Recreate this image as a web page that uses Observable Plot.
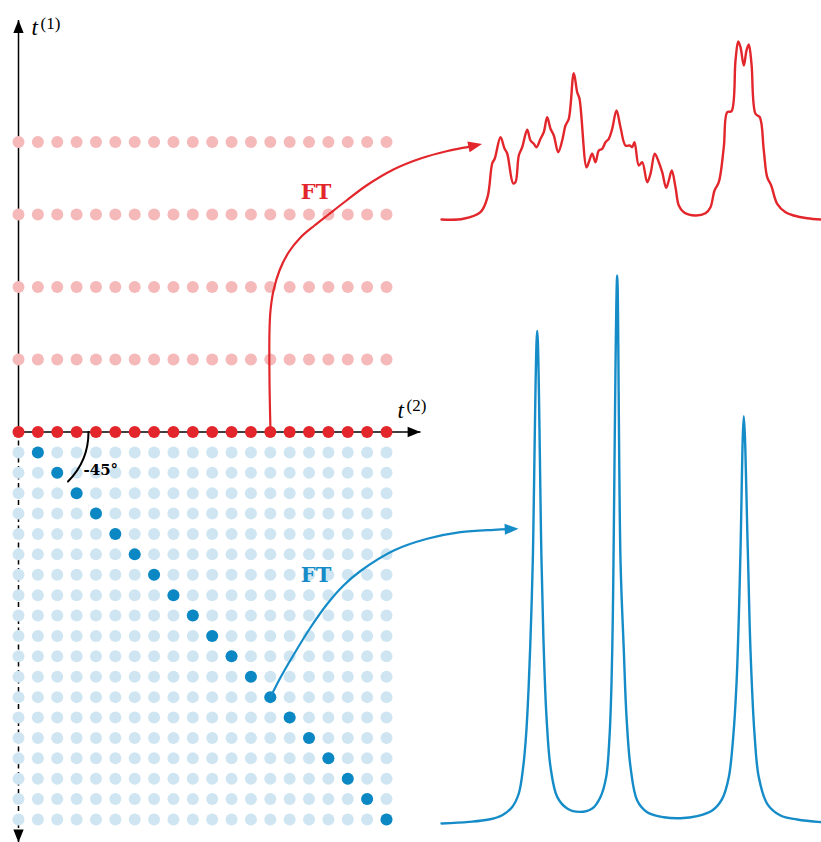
<!DOCTYPE html>
<html><head><meta charset="utf-8">
<script src="https://cdn.jsdelivr.net/npm/d3@7"></script>
<script src="https://cdn.jsdelivr.net/npm/@observablehq/plot@0.6"></script>
<style>
html,body{margin:0;padding:0;background:#fff;}
#chart{position:relative;width:821px;height:842px;overflow:hidden;background:#fff;}
#chart svg{position:absolute;left:0;top:0;}
</style></head><body><div id="chart"></div>
<script>
// ---------------- data ----------------
const t2Samples = [0,1,2,3,4,5,6,7,8,9,10,11,12,13,14,15,16,17,18,19];
const t1Samples = [0,1,2,3,4];                 // t1 = 0 is the acquired (dark) row
const rotatedRows = [1,2,3,4,5,6,7,8,9,10,11,12,13,14,15,16,17,18,19];
const diagonalSamples = [1,2,3,4,5,6,7,8,9,10,11,12,13,14,15,16,17,18,19];

const redFreq = [0,22,39,46,50.7,53.3,59,63,65.7,71.7,74,77.3,80.7,85.7,89,92.3,95,99,102.3,105.7,109,112.3,116.7,120.7,124,127.3,132.3,135.7,138,145,147.3,150.7,154,157.3,160.7,164,167.3,170.7,175,179,184,188.3,190.7,193,197.3,200.7,205.7,209,213.3,217.3,220.7,224.7,227.3,230.3,234,237.3,242.3,254,264,269,273,277.3,282.3,285.7,290,294,296.7,299,302.3,305,307.3,310,314,318.3,322.3,325.7,329.7,335.7,344,352.3,365.7,380];
const redIntensity = [0,0.7,7.3,22.3,56,61,82.3,71,66,36,37.3,64,72.3,89.7,79,75.7,72.3,80.7,87.3,102.3,90.7,84,67.3,79,94,100.7,146.3,127.3,120.7,52.3,57.3,65.7,57.3,69,70.7,77.3,80.7,90.7,109,92.3,74,74,72.3,77.3,54,57.3,37.3,45.7,65.7,57.3,47.3,31.7,39,49,32.3,14,7.3,4,6.3,12.3,29,37.3,72.3,107.3,108.3,159,178,172.3,154,169,175,155.7,105.7,102.3,69,42.3,34,15.7,7.3,4,1.3,0];

const blueFreq = [0,27.3,47.3,60.7,70.7,77.3,81.7,84.7,87.3,89.7,91.3,95.7,100,102.3,105,109,115.7,125.7,138,150.7,159,164.7,168,170,171.3,172,175.7,179,182.3,185,189,195.7,205.7,222.3,239,255.7,270.7,280.7,287.3,291.7,295,297.3,299,302.3,306.3,309,313,317.3,325.7,339,355.7,380];
const blueIntensity = [0,1.6,4,8.3,16.6,30,56.6,90,140,206.6,263.3,492.6,263.3,173.3,106.6,56.6,26.6,15,11.6,15,26.6,46.6,86.6,140,206.6,263.3,548,263.3,173.3,107,56.6,23,11.3,6.3,5.3,7.3,13,24.7,46.3,86.3,139.7,206.3,273,407.3,273,173,89.7,46.3,19.7,8,4,1.3];

const labelFT = "FT";
const labelAngle = "-45°";

// ---------------- style / layout (pixels) ----------------
const W = 821, H = 842;
const C = {
  red: "#e2262b", redPale: "#f5b9ba",
  blue: "#158cc8", blueDark: "#0b87c4", bluePale: "#cfe6f2",
  ink: "#000"
};
const SERIF = "'DejaVu Serif', serif";
const MATH = "'Liberation Serif', 'DejaVu Serif', serif";

const gridXRange = [18, 386], gridYRange = [431.5, 819];
const sx = d3.scaleLinear([0, 19], gridXRange);
const sy = d3.scaleLinear([0, 19], gridYRange);
const T1_STEP = 72.5 / ((gridYRange[1] - gridYRange[0]) / 19);   // spacing of t1 rows, in row units
const P = (px, py) => ({x: sx.invert(px), y: sy.invert(py)});

// annotation paths of the two FT arrows (pixel anchors)
const redArrowPathPx = [[270,431.5],[269,380],[269,330],[270,310],[273,290],[279,270],[288,252],[300,237],[314,225],[328,214],[346,200],[366,185],[393,169],[420,158],[447,150.5],[468,146.3],[481.5,143.5]];
const blueArrowPathPx = [[270,696.6],[280,677],[293.3,654],[310,627],[326.7,603.5],[343,585],[360,570.5],[393.3,550],[426.7,538.3],[460,531.7],[493.3,529.3],[518,528.3]];

// arrow-head symbol: tip at the origin, pointing up
const arrowHead = {
  draw(ctx, size) {
    const r = Math.sqrt(size / Math.PI), L = 3 * r, w = 2.4 * r;
    ctx.moveTo(0, 0); ctx.lineTo(w / 2, L); ctx.lineTo(-w / 2, L); ctx.closePath();
  }
};
const tipRotate = pts => {
  const [a, b] = pts.slice(-2);
  return Math.atan2(b[1] - a[1], b[0] - a[0]) * 180 / Math.PI + 90;
};

// ---------------- grid tables ----------------
const topDots = t1Samples.flatMap(t1 => t2Samples.map(t2 => ({t1, t2})));
const rotDots = rotatedRows.flatMap(row => t2Samples.map(t2 => ({row, t2})));
const diagDots = diagonalSamples.map(k => ({row: k, t2: k}));

const origin = {x: 0, y: 0};
const topTip = P(18, 19.5), bottomTip = P(18, 842), rightTip = P(420, 431.5);

const redPath = redArrowPathPx.map(([a, b]) => P(a, b));
const bluePath = blueArrowPathPx.map(([a, b]) => P(a, b));
const trim = (pts, px) => {
  const out = pts.slice(0, -1);
  const [a, b] = pts.slice(-2).map(p => [sx(p.x), sy(p.y)]);
  const d = Math.hypot(b[0] - a[0], b[1] - a[1]);
  out.push(P(b[0] - (b[0] - a[0]) * px / d, b[1] - (b[1] - a[1]) * px / d));
  return out;
};

const angR = 70, ang = 45 * Math.PI / 180;
const arcStart = P(18 + angR, 431.5);
const arcEnd = P(18 + angR * Math.cos(ang), 431.5 + angR * Math.sin(ang));

const seg = (a, b) => [{x1: a.x, y1: a.y, x2: b.x, y2: b.y}];
const L4 = {x1: "x1", y1: "y1", x2: "x2", y2: "y2"};

const gridPlot = Plot.plot({
  width: W, height: H,
  marginTop: 0, marginRight: 0, marginBottom: 0, marginLeft: 0,
  style: {background: "transparent", overflow: "visible"},
  x: {domain: [0, 19], range: gridXRange, axis: null},
  y: {domain: [0, 19], range: gridYRange, axis: null},
  marks: [
    // axes
    Plot.link(seg(origin, topTip), {...L4, stroke: C.ink, strokeWidth: 1.5}),
    Plot.link(seg(origin, bottomTip), {...L4, stroke: C.ink, strokeWidth: 1.5, strokeDasharray: "5,3.5"}),
    Plot.link(seg(origin, rightTip), {...L4, stroke: C.ink, strokeWidth: 1.5}),
    // sampled points
    Plot.dot(topDots, {x: "t2", y: d => -d.t1 * T1_STEP, r: 6, fill: d => d.t1 === 0 ? C.red : C.redPale, stroke: null}),
    Plot.dot(rotDots, {x: "t2", y: "row", r: 6, fill: C.bluePale, stroke: null}),
    Plot.dot(diagDots, {x: "t2", y: "row", r: 6, fill: C.blueDark, stroke: null}),
    // -45° arc
    Plot.arrow(seg(arcStart, arcEnd), {...L4, bend: 22.5, headLength: 0, stroke: C.ink, strokeWidth: 2}),
    Plot.text([P(83, 470)], {x: "x", y: "y", text: () => labelAngle, fontFamily: SERIF, fontWeight: "bold", fontSize: 15, textAnchor: "start", fill: C.ink}),
    // FT arrows
    Plot.line(trim(redPath, 6), {x: "x", y: "y", curve: "catmull-rom", stroke: C.red, strokeWidth: 2.2}),
    Plot.dot(redPath.slice(-1), {x: "x", y: "y", symbol: arrowHead, r: 4.6, fill: C.red, stroke: null, rotate: tipRotate(redArrowPathPx)}),
    Plot.line(trim(bluePath, 6), {x: "x", y: "y", curve: "catmull-rom", stroke: C.blue, strokeWidth: 2.2}),
    Plot.dot(bluePath.slice(-1), {x: "x", y: "y", symbol: arrowHead, r: 4.6, fill: C.blue, stroke: null, rotate: tipRotate(blueArrowPathPx)}),
    Plot.text([P(315.5, 192)], {x: "x", y: "y", text: () => labelFT, fontFamily: SERIF, fontWeight: "bold", fontSize: 21, fill: C.red}),
    Plot.text([P(315.5, 575)], {x: "x", y: "y", text: () => labelFT, fontFamily: SERIF, fontWeight: "bold", fontSize: 21, fill: C.blue}),
    // axis labels
    Plot.text([P(31, 27.5)], {x: "x", y: "y", text: () => "t", fontFamily: MATH, fontStyle: "italic", fontSize: 23, textAnchor: "start", fill: C.ink}),
    Plot.text([P(40, 23.5)], {x: "x", y: "y", text: () => "(1)", fontFamily: MATH, fontSize: 17, textAnchor: "start", fill: C.ink}),
    Plot.text([P(397, 410.5)], {x: "x", y: "y", text: () => "t", fontFamily: MATH, fontStyle: "italic", fontSize: 23, textAnchor: "start", fill: C.ink}),
    Plot.text([P(406, 405)], {x: "x", y: "y", text: () => "(2)", fontFamily: MATH, fontSize: 17, textAnchor: "start", fill: C.ink}),
    // axis arrow heads
    Plot.dot([topTip], {x: "x", y: "y", symbol: arrowHead, r: 4.3, fill: C.ink, stroke: null, rotate: 0}),
    Plot.dot([bottomTip], {x: "x", y: "y", symbol: arrowHead, r: 4.3, fill: C.ink, stroke: null, rotate: 180}),
    Plot.dot([rightTip], {x: "x", y: "y", symbol: arrowHead, r: 4.3, fill: C.ink, stroke: null, rotate: 90})
  ]
});

const redSpec = redFreq.map((f, i) => ({f, v: redIntensity[i]}));
const blueSpec = blueFreq.map((f, i) => ({f, v: blueIntensity[i]}));

const redPlot = Plot.plot({
  width: W, height: H,
  marginTop: 0, marginRight: 0, marginBottom: 0, marginLeft: 0,
  style: {background: "transparent", overflow: "visible"},
  x: {domain: [0, 380], range: [441, 821], axis: null},
  y: {domain: [0, 178], range: [219, 41], axis: null},
  marks: [Plot.line(redSpec, {x: "f", y: "v", stroke: C.red, strokeWidth: 2.4, curve: "catmull-rom"})]
});
const bluePlot = Plot.plot({
  width: W, height: H,
  marginTop: 0, marginRight: 0, marginBottom: 0, marginLeft: 0,
  style: {background: "transparent", overflow: "visible"},
  x: {domain: [0, 380], range: [441, 821], axis: null},
  y: {domain: [0, 548], range: [823, 275], axis: null},
  marks: [Plot.line(blueSpec, {x: "f", y: "v", stroke: C.blue, strokeWidth: 2.4, curve: "catmull-rom"})]
});

document.getElementById("chart").append(redPlot, bluePlot, gridPlot);
</script></body></html>
